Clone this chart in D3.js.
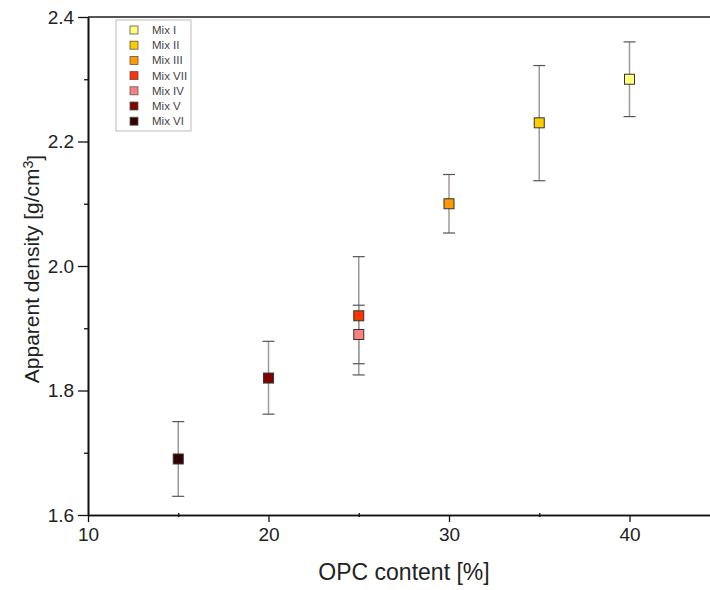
<!DOCTYPE html>
<html>
<head>
<meta charset="utf-8">
<script src="https://cdn.jsdelivr.net/npm/d3@7"></script>
<style>
  body { margin: 0; background: #fff; }
  text { font-family: "Liberation Sans", Arial, sans-serif; }
</style>
</head>
<body>
<div id="chart"></div>
<script>
// Data
const mixes = ["Mix I", "Mix II", "Mix III", "Mix VII", "Mix IV", "Mix V", "Mix VI"];
const opc = [40, 35, 30, 25, 25, 20, 15];
const density = [2.30, 2.23, 2.10, 1.92, 1.89, 1.82, 1.69];
const errLow = [2.24, 2.137, 2.053, 1.825, 1.843, 1.762, 1.63];
const errHigh = [2.36, 2.322, 2.147, 2.015, 1.937, 1.879, 1.75];
const colors = ["#ffff80", "#ffcc00", "#ff9900", "#ff3300", "#ff8080", "#800000", "#330000"];
const xTicks = [10, 20, 30, 40];
const yTicks = [1.6, 1.8, 2.0, 2.2, 2.4];

const W = 710, H = 590;
const margin = { top: 17, left: 88, bottom: 75 };

const svg = d3.select("#chart").append("svg")
    .attr("width", W).attr("height", H);

const x = d3.scaleLinear().domain([10, 45]).range([margin.left, margin.left + 3.5 * 180.5]);
const y = d3.scaleLinear().domain([1.6, 2.4]).range([H - margin.bottom, margin.top]);

const data = mixes.map((m, i) => ({
    mix: m, x: opc[i], y: density[i], lo: errLow[i], hi: errHigh[i], color: colors[i]
}));

// top frame line
svg.append("line")
    .attr("x1", x(10)).attr("x2", W)
    .attr("y1", y(2.4)).attr("y2", y(2.4))
    .attr("stroke", "#555").attr("stroke-width", 2);

// axes
const xAxis = svg.append("g")
    .attr("transform", `translate(0,${y(1.6)})`)
    .call(d3.axisBottom(x).tickValues(xTicks).tickFormat(d3.format("d")).tickSize(7).tickSizeOuter(0));
const xMinor = svg.append("g")
    .attr("transform", `translate(0,${y(1.6)})`)
    .call(d3.axisBottom(x).tickValues([15, 25, 35]).tickFormat("").tickSize(4).tickSizeOuter(0));

const yAxis = svg.append("g")
    .attr("transform", `translate(${x(10)},0)`)
    .call(d3.axisLeft(y).tickValues(yTicks).tickFormat(d3.format(".1f")).tickSize(10).tickSizeOuter(0));
const yMinor = svg.append("g")
    .attr("transform", `translate(${x(10)},0)`)
    .call(d3.axisLeft(y).tickValues([1.7, 1.9, 2.1, 2.3]).tickFormat("").tickSize(4).tickSizeOuter(0));

[xAxis, xMinor, yAxis, yMinor].forEach(g => {
    g.select(".domain").attr("stroke", "#111").attr("stroke-width", 1.6);
    g.selectAll(".tick line").attr("stroke", "#111").attr("stroke-width", 1.3);
    g.selectAll(".tick text").attr("fill", "#222").style("font-size", "19px");
});
xMinor.selectAll(".tick line").attr("y1", -2).attr("y2", 2);
xAxis.selectAll(".tick text").attr("dy", "0.85em");
yAxis.selectAll(".tick text").attr("dx", "-0.05em");

// axis titles
svg.append("text")
    .attr("x", 404).attr("y", 580)
    .attr("text-anchor", "middle")
    .attr("fill", "#222").style("font-size", "23px")
    .text("OPC content [%]");

const yt = svg.append("text")
    .attr("transform", `translate(39,${(y(1.6) + y(2.4)) / 2 + 3}) rotate(-90)`)
    .attr("text-anchor", "middle")
    .attr("fill", "#222").style("font-size", "21px");
yt.append("tspan").text("Apparent density [g/cm");
yt.append("tspan").attr("dy", "-0.45em").style("font-size", "14px").text("3");
yt.append("tspan").attr("dy", "0.45em").text("]");

// error bars
const eb = svg.append("g").selectAll("g").data(data).join("g");
eb.append("line")
    .attr("x1", d => x(d.x)).attr("x2", d => x(d.x))
    .attr("y1", d => y(d.lo)).attr("y2", d => y(d.hi))
    .attr("stroke", "#a09898").attr("stroke-width", 1.5);
eb.selectAll(".cap").data(d => [[d.x, d.lo], [d.x, d.hi]]).join("line")
    .attr("class", "cap")
    .attr("x1", d => x(d[0]) - 6).attr("x2", d => x(d[0]) + 6)
    .attr("y1", d => y(d[1])).attr("y2", d => y(d[1]))
    .attr("stroke", "#555").attr("stroke-width", 1.2);

// markers
const ms = 10;
svg.append("g").selectAll("rect").data(data).join("rect")
    .attr("x", d => x(d.x) - ms / 2).attr("y", d => y(d.y) - ms / 2)
    .attr("width", ms).attr("height", ms)
    .attr("fill", d => d.color)
    .attr("stroke", "#333").attr("stroke-width", 1);

// legend
const legend = svg.append("g").attr("transform", "translate(116,20)");
legend.append("rect")
    .attr("width", 75).attr("height", 111)
    .attr("fill", "#fff").attr("stroke", "#bbb").attr("stroke-width", 1);
const li = legend.selectAll("g.item").data(data).join("g")
    .attr("class", "item")
    .attr("transform", (d, i) => `translate(0,${10 + i * 15.2})`);
li.append("rect")
    .attr("x", 14).attr("y", -4).attr("width", 8).attr("height", 8)
    .attr("fill", d => d.color).attr("stroke", "#555").attr("stroke-width", 0.8);
li.append("text")
    .attr("x", 36).attr("y", 0).attr("dy", "0.35em")
    .attr("fill", "#444").style("font-size", "11.5px")
    .text(d => d.mix);
</script>
</body>
</html>
